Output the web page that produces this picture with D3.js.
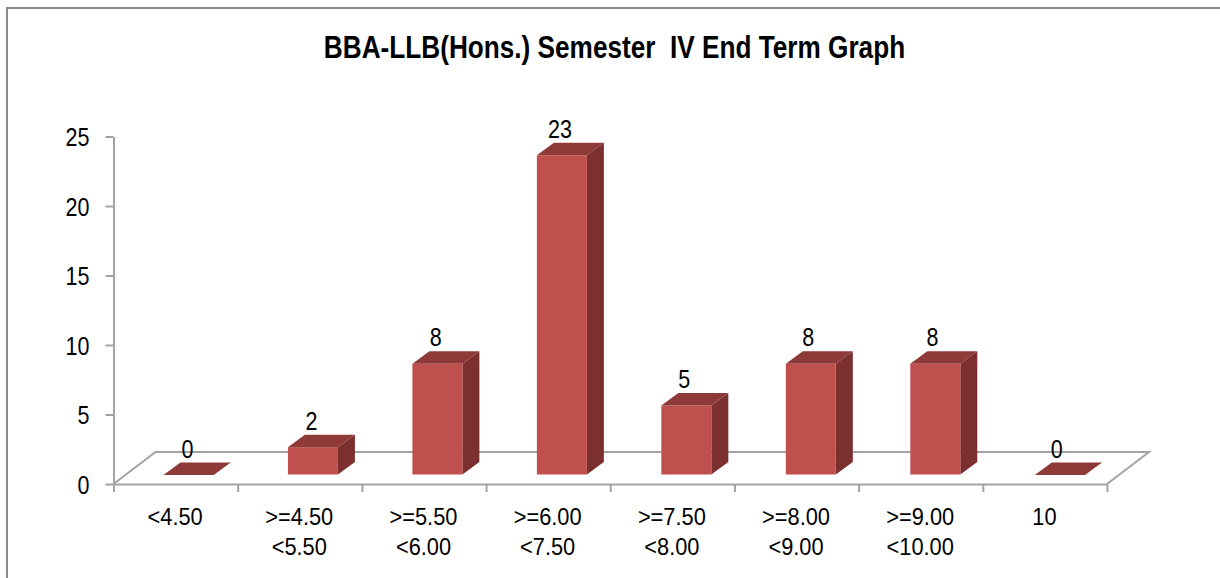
<!DOCTYPE html>
<html>
<head>
<meta charset="utf-8">
<script src="https://cdn.jsdelivr.net/npm/d3@7"></script>
<style>
  html, body { margin: 0; padding: 0; background: #fff; }
  svg { display: block; }
  text { font-family: "Liberation Sans", Arial, sans-serif; fill: #000; }
  .axis path, .axis line { stroke: #a3a3a3; stroke-width: 2; fill: none; }
</style>
</head>
<body>
<div id="chart"></div>
<script>
const title = 'BBA-LLB(Hons.) Semester\u00a0\u00a0IV End Term Graph'
const categories = ['<4.50', '>=4.50|<5.50', '>=5.50|<6.00', '>=6.00|<7.50', '>=7.50|<8.00', '>=8.00|<9.00', '>=9.00|<10.00', '10']
const values = [0, 2, 8, 23, 5, 8, 8, 0]
const yTicks = [0, 5, 10, 15, 20, 25]

const width = 1220
const height = 578
const margin = { top: 136.5, right: 113, bottom: 94, left: 113.5 }

// pseudo-3d offsets
const floor = { dx: 42, dy: -32 }
const bar = { width: 50, dx: 17, dy: -12.5, lift: 9.5, shift: 13.5 }

const colors = { front: '#c0504d', top: '#8e3a38', side: '#7b2f2e' }

// no narrow font installed, so squeeze the glyphs instead
const narrow = (px, py, sx = 0.86) => `translate(${px}, ${py}) scale(${sx}, 1)`

const svg = d3.select('#chart').append('svg')
  .attr('width', width)
  .attr('height', height)

// picture frame, only top and left are visible
svg.append('path')
  .attr('d', d3.line()([[7, height], [7, 8], [width, 8]]))
  .attr('fill', 'none')
  .attr('stroke', '#8c8c8c')
  .attr('stroke-width', 2)

svg.append('text')
  .attr('transform', narrow(614.5, 58, 0.85))
  .attr('text-anchor', 'middle')
  .attr('font-size', 30.8)
  .attr('font-weight', 'bold')
  .text(title)

const x = d3.scaleBand()
  .domain(d3.range(categories.length))
  .range([margin.left, width - margin.right])

// bars sit on a slightly wider spacing than the axis ticks
const xBar = d3.scaleBand()
  .domain(d3.range(categories.length))
  .range([margin.left - 0.8, width - margin.right + 1.5])

const y = d3.scaleLinear()
  .domain([0, 25])
  .range([height - margin.bottom, margin.top])

const y0 = y(0)
const x0 = x.range()[0]
const x1 = x.range()[1]

// floor of the 3d plot
svg.append('path')
  .attr('d', d3.line()([
    [x0, y0],
    [x0 + floor.dx, y0 + floor.dy],
    [x1 + floor.dx, y0 + floor.dy],
    [x1, y0]
  ]))
  .attr('fill', 'none')
  .attr('stroke', '#a3a3a3')
  .attr('stroke-width', 2)

const yAxis = svg.append('g')
  .attr('class', 'axis')
  .attr('transform', `translate(${x0}, 0)`)
  .call(d3.axisLeft(y).tickValues(yTicks).tickSize(8).tickSizeOuter(0))

yAxis.selectAll('text')
  .attr('x', null)
  .attr('dy', null)
  .attr('transform', narrow(-24, 9))
  .attr('font-size', 25)
  .style('font-family', '"Liberation Sans", Arial, sans-serif')

const tickScale = d3.scaleLinear().domain([0, categories.length]).range([x0, x1])

svg.append('g')
  .attr('class', 'axis')
  .attr('transform', `translate(0, ${y0})`)
  .call(d3.axisBottom(tickScale).ticks(categories.length).tickSize(8).tickSizeOuter(0).tickFormat(''))

// category labels
const catLabels = svg.append('g').selectAll('text')
  .data(categories)
  .join('text')
  .attr('text-anchor', 'middle')
  .attr('font-size', 24.5)
  .attr('transform', (d, i) => narrow(x(i) + x.bandwidth() / 2 - 0.5, 525, 0.89))

catLabels.selectAll('tspan')
  .data((d) => d.split('|'))
  .join('tspan')
  .attr('x', 0)
  .attr('dy', (d, j) => (j ? 30.5 : 0))
  .text((d) => d)

// bars
const bars = svg.append('g').selectAll('g')
  .data(values)
  .join('g')

const left = (i) => xBar(i) + xBar.bandwidth() / 2 - bar.width / 2 + bar.shift
const base = y0 - bar.lift
const topY = (d) => base - (y0 - y(d)) + 0.5
const poly = (pts) => d3.line()(pts) + 'Z'

bars.append('path')
  .attr('fill', colors.side)
  .attr('d', (d, i) => poly([
    [left(i) + bar.width, topY(d)],
    [left(i) + bar.width + bar.dx, topY(d) + bar.dy],
    [left(i) + bar.width + bar.dx, base + bar.dy],
    [left(i) + bar.width, base]
  ]))

bars.append('rect')
  .attr('fill', colors.front)
  .attr('x', (d, i) => left(i))
  .attr('y', (d) => topY(d))
  .attr('width', bar.width)
  .attr('height', (d) => base - topY(d))

bars.append('path')
  .attr('fill', colors.top)
  .attr('d', (d, i) => poly([
    [left(i), topY(d)],
    [left(i) + bar.dx, topY(d) + bar.dy],
    [left(i) + bar.width + bar.dx, topY(d) + bar.dy],
    [left(i) + bar.width, topY(d)]
  ]))

bars.append('text')
  .attr('text-anchor', 'middle')
  .attr('font-size', 25)
  .attr('transform', (d, i) => narrow(x(i) + x.bandwidth() / 2 + bar.shift - 1.7, topY(d) + bar.dy - 5))
  .text((d) => d)
</script>
</body>
</html>
